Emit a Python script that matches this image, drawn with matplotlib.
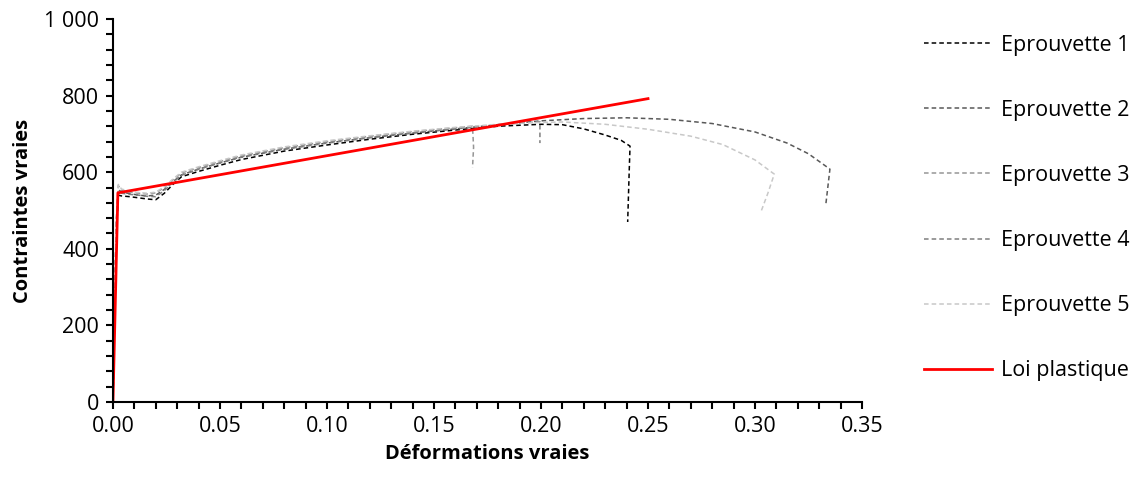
import matplotlib
matplotlib.use("Agg")
import matplotlib.pyplot as plt
from matplotlib.ticker import MultipleLocator, FuncFormatter

plt.rcParams['font.family'] = ['Open Sans', 'DejaVu Sans']

# ── data ──────────────────────────────────────────────────────────────────────

# common elastic / Lüders plateau / hardening start
base_x = [0.0, 0.0015, 0.0025, 0.004, 0.008, 0.012, 0.016, 0.020, 0.024, 0.028,
          0.032, 0.040, 0.050, 0.060, 0.080, 0.100, 0.120, 0.140, 0.160]

e1_x = base_x + [0.180, 0.200, 0.210, 0.220, 0.230, 0.2375, 0.2416, 0.2412, 0.2405]
e1_y = [0, 430, 540, 538, 536, 533, 530, 528, 545, 568, 588, 602, 618, 633, 655,
        671, 686, 699, 710, 720, 725, 724, 713, 697, 683, 668, 600, 470]

e2_x = base_x + [0.180, 0.200, 0.220, 0.240, 0.260, 0.280, 0.300, 0.315, 0.325,
                 0.335, 0.334, 0.333]
e2_y = [0, 460, 555, 548, 544, 540, 538, 540, 555, 575, 593, 608, 624, 639, 660,
        676, 690, 702, 713, 724, 734, 740, 742, 738, 727, 705, 676, 648, 608, 560,
        512]

e3_x = base_x + [0.168, 0.1685, 0.168]
e3_y = [0, 470, 565, 552, 548, 545, 543, 546, 560, 580, 598, 612, 628, 643, 664,
        680, 694, 706, 716, 720, 665, 612]

e4_x = base_x + [0.180, 0.1995, 0.1995, 0.1995]
e4_y = [0, 455, 550, 545, 542, 540, 537, 536, 552, 573, 592, 608, 624, 640, 661,
        677, 691, 703, 714, 724, 732, 705, 676]

e5_x = base_x + [0.180, 0.200, 0.210, 0.230, 0.250, 0.270, 0.285, 0.300, 0.309,
                 0.306, 0.303]
e5_y = [0, 465, 568, 556, 550, 547, 545, 548, 562, 582, 600, 614, 630, 645, 666,
        682, 695, 707, 717, 725, 730, 731, 725, 712, 694, 672, 632, 595, 545, 500]

loi_x = [0.0, 0.0023, 0.25]
loi_y = [0, 546, 792]

labels = ["Eprouvette 1", "Eprouvette 2", "Eprouvette 3", "Eprouvette 4",
          "Eprouvette 5", "Loi plastique"]
colors = ["#000000", "#595959", "#969696", "#7f7f7f", "#c8c8c8", "#ff0000"]

# ── figure ────────────────────────────────────────────────────────────────────

fig = plt.figure(figsize=(11.41, 4.86), dpi=100)
ax = fig.add_axes([0.099, 0.1728, 0.6565, 0.7882])

dash = (0, (3, 2))
series = [(e1_x, e1_y), (e2_x, e2_y), (e3_x, e3_y), (e4_x, e4_y), (e5_x, e5_y)]
for (xs, ys), lab, c in zip(series, labels[:5], colors[:5]):
    ax.plot(xs, ys, color=c, lw=1.1, linestyle=dash, label=lab)
ax.plot(loi_x, loi_y, color=colors[5], lw=2, label=labels[5])

ax.set_xlim(0, 0.35)
ax.set_ylim(0, 1000)
ax.xaxis.set_major_locator(MultipleLocator(0.05))
ax.xaxis.set_minor_locator(MultipleLocator(0.01))
ax.yaxis.set_major_locator(MultipleLocator(200))
ax.yaxis.set_minor_locator(MultipleLocator(40))
ax.xaxis.set_major_formatter(FuncFormatter(lambda v, p: f"{v:.2f}"))
ax.yaxis.set_major_formatter(FuncFormatter(lambda v, p: f"{int(v):,}".replace(",", " ")))

for s in ["top", "right"]:
    ax.spines[s].set_visible(False)
for s in ["left", "bottom"]:
    ax.spines[s].set_linewidth(1.5)
ax.tick_params(which="both", direction="out", length=5, width=1.5, labelsize=15.5)
ax.tick_params(axis="x", pad=5)
ax.tick_params(axis="y", pad=5)

ax.set_xlabel("Déformations vraies", fontsize=14.5, fontweight="bold", labelpad=5)
ax.set_ylabel("Contraintes vraies", fontsize=14.5, fontweight="bold", labelpad=8)

handles, labs = ax.get_legend_handles_labels()
fig.legend(handles, labs, loc="center left", bbox_to_anchor=(0.8, 0.572),
           frameon=False, fontsize=15.5, labelspacing=2.05, handlelength=3.2,
           handletextpad=0.4, borderpad=0)

fig.savefig("out.png", dpi=100)
